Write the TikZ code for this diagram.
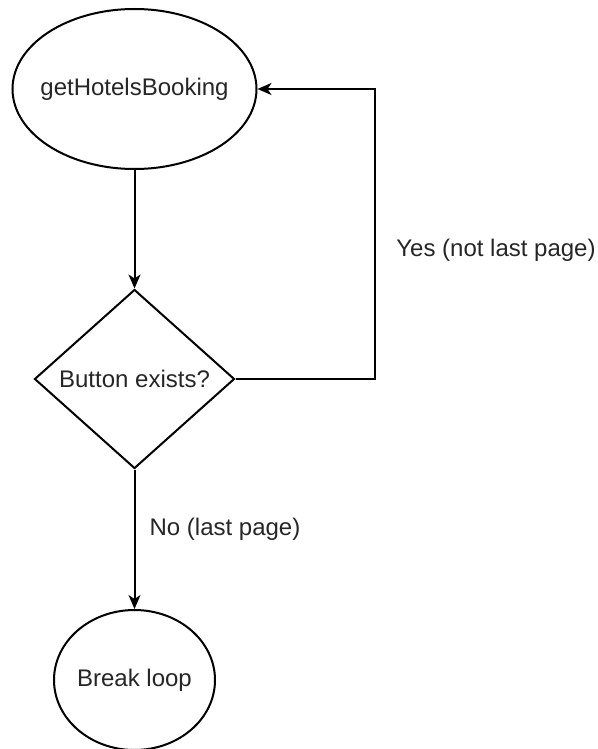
\documentclass[tikz,border=0pt]{standalone}
\usepackage{fontspec}
\setmainfont{Liberation Sans}
\usetikzlibrary{shapes.geometric,arrows.meta}
\begin{document}
\begin{tikzpicture}[x=1pt,y=-1pt,
  every node/.style={font=\fontsize{24}{28}\selectfont, text=black!85},
  shp/.style={draw=black, line width=2pt, inner sep=0pt},
  conn/.style={draw=black, line width=2pt, -{Stealth[length=14pt,width=12pt,inset=4pt]}},
  lbl/.style={inner sep=0pt}]
\useasboundingbox (0,0) rectangle (597,749);
\node[shp, ellipse, minimum width=244pt, minimum height=160pt] (top) at (134.5,89) {\makebox[0pt]{getHotelsBooking}};
\node[shp, diamond, aspect=1.117, minimum width=200pt, minimum height=179pt] (dia) at (134.5,379) {\makebox[0pt]{Button exists?}};
\node[shp, ellipse, minimum width=161pt, minimum height=140pt] (brk) at (134.5,680) {\makebox[0pt]{Break loop}};
\coordinate (c) at (375,89);
\draw[conn] (top.south) -- (dia.north);
\draw[conn] (dia.east) -| (c) -- (top.east);
\draw[conn] (dia.south) -- (brk.north);
\node[lbl] (yes) at (496,250) {Yes (not last page)};
\node[lbl] (no) at (225,529) {No (last page)};
\end{tikzpicture}
\end{document}
